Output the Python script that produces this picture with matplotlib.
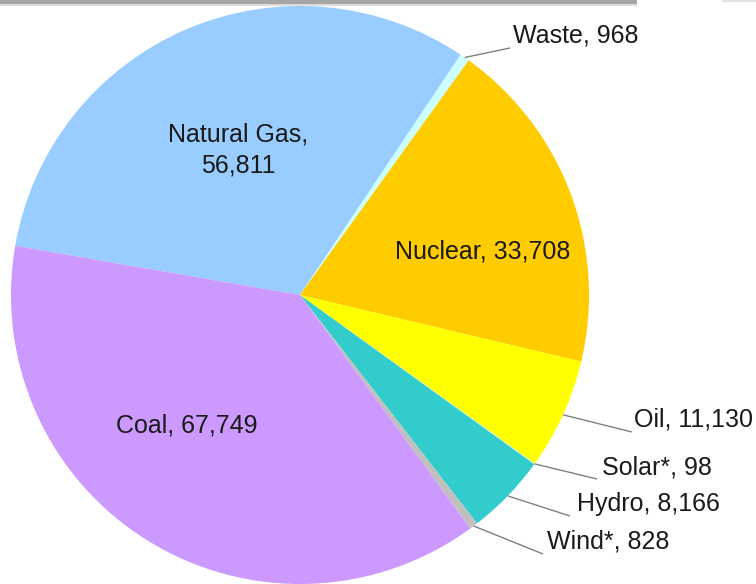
import matplotlib
matplotlib.use("Agg")
import matplotlib.pyplot as plt
from matplotlib.patches import Rectangle
import numpy as np

categories = ["Natural Gas", "Waste", "Nuclear", "Oil", "Solar*", "Hydro", "Wind*", "Coal"]
values = [56811, 968, 33708, 11130, 98, 8166, 828, 67749]
colors = ["#99CCFF", "#CCFFFF", "#FFCC00", "#FFFF00", "#CCFFCC", "#33CCCC", "#C0C0C0", "#CC99FF"]

W, H = 756, 584
fig = plt.figure(figsize=(W / 100, H / 100), dpi=100)
ax = fig.add_axes([0, 0, 1, 1])

FONT = ["Liberation Sans", "DejaVu Sans"]
FS = 18
TXT = "#1a1a1a"

def Y(y):
    return H - y

cx, cy, R = 300, 295, 289
wedges, _ = ax.pie(values, colors=colors, startangle=170.2, counterclock=False,
                   center=(cx, Y(cy)), radius=R, frame=True,
                   wedgeprops=dict(linewidth=0))
ax.set_xlim(0, W)
ax.set_ylim(0, H)
ax.axis("off")

def fmt(v):
    return f"{v:,}"

# inside labels
inside = {"Natural Gas": (238, 150, "Natural Gas,\n" + fmt(values[0])),
          "Nuclear": (483, 251, None),
          "Coal": (187, 425, None)}
for name, (x, y, txt) in inside.items():
    i = categories.index(name)
    if txt is None:
        txt = f"{name}, {fmt(values[i])}"
    ax.text(x, Y(y), txt, ha="center", va="center", fontsize=FS, family=FONT,
            color=TXT, linespacing=1.35)

# outside labels with leader lines
outside = {"Waste": (513, 36, 510, 48),
           "Oil": (634, 419, 632, 432),
           "Solar*": (602, 468, 597, 479),
           "Hydro": (577, 504, 570, 516),
           "Wind*": (547, 541, 543, 554)}
for name, (tx, ty, lx, ly) in outside.items():
    i = categories.index(name)
    w = wedges[i]
    mid = np.deg2rad((w.theta1 + w.theta2) / 2)
    sx = cx + R * np.cos(mid)
    sy = Y(cy) + R * np.sin(mid)
    ax.plot([sx, lx], [sy, Y(ly)], color="#808080", lw=1.0, solid_capstyle="butt")
    ax.text(tx, Y(ty), f"{name}, {fmt(values[i])}", ha="left", va="center",
            fontsize=FS, family=FONT, color=TXT)

# decorative top bar (cropped frame shadow)
ax.add_patch(Rectangle((0, Y(3.5)), 637, 3.5, color="#a6a6a6", lw=0))
ax.add_patch(Rectangle((0, Y(6)), 637, 2.5, color="#dcdcdc", lw=0))
ax.add_patch(Rectangle((722, Y(2)), 34, 2, color="#e2e2e2", lw=0))

fig.savefig("out.png", dpi=100)
